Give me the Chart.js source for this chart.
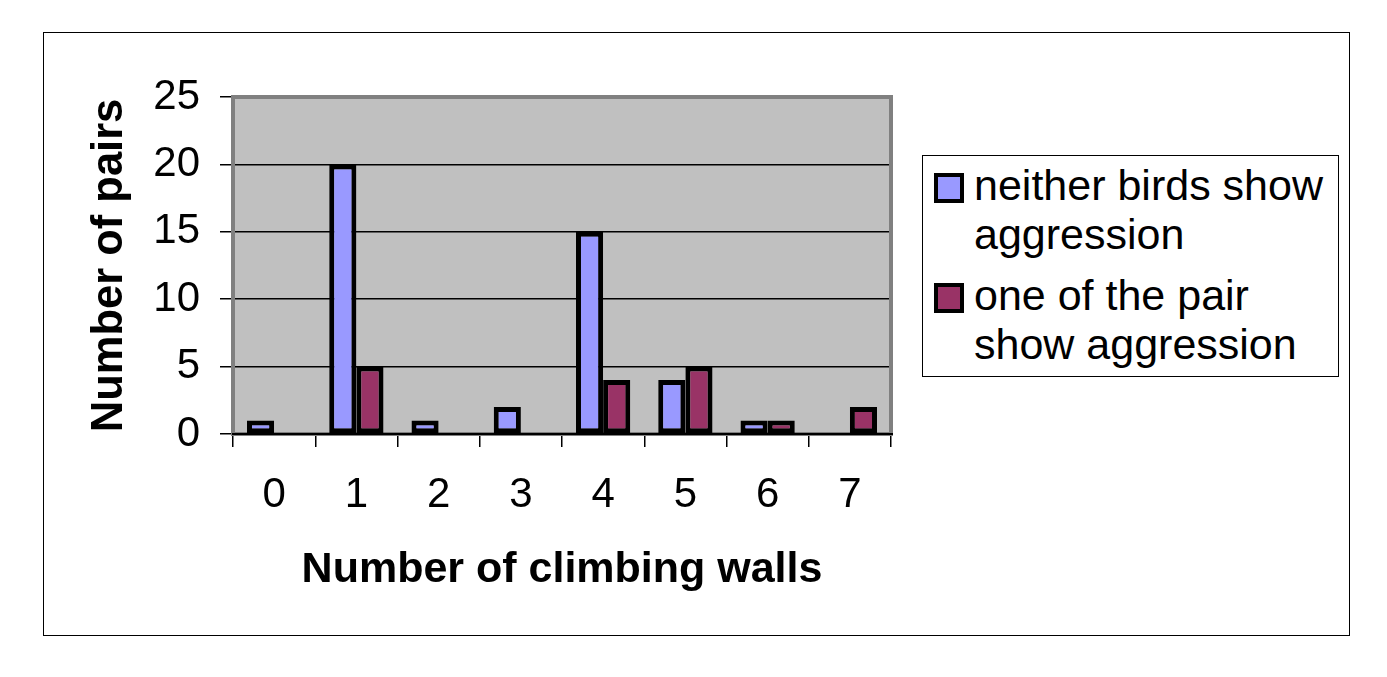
<!DOCTYPE html>
<html>
<head>
<meta charset="utf-8">
<script src="https://cdn.jsdelivr.net/npm/chart.js@4.4.1/dist/chart.umd.min.js"></script>
<style>
  body { margin: 0; background: #fff; font-family: "Liberation Sans", Arial, sans-serif; }
  #frame { position: absolute; left: 43px; top: 32px; width: 1305px; height: 602px; border: 1px solid #000; }
  #chart { position: absolute; left: 0; top: 0; }
  #legend { position: absolute; left: 922px; top: 155px; width: 415px; height: 220px; border: 1px solid #000; background: #fff; }
  .item { position: absolute; left: 11px; }
  .swatch { position: absolute; left: 0; width: 22px; height: 22px; border: 4px solid #000; }
  .label { position: absolute; left: 40px; white-space: pre; font-size: 43px; line-height: 49px; color: #000; }
</style>
</head>
<body>
<div id="frame"></div>
<canvas id="chart" width="1387" height="677"></canvas>
<div id="legend"></div>
<script>
// Data
const walls = ['0', '1', '2', '3', '4', '5', '6', '7'];
const neitherAggressive = [1, 20, 1, 2, 15, 4, 1, 0];
const oneAggressive = [0, 5, 0, 0, 4, 5, 1, 2];
const seriesNames = ['neither birds show\naggression', 'one of the pair\nshow aggression'];
const seriesColors = ['#9999FF', '#993366'];
const yTicks = [0, 5, 10, 15, 20, 25];

const FONT = '"Liberation Sans", Arial, sans-serif';

// plot area background + grey frame, drawn under the bars
const plotFrame = {
    id: 'plotFrame',
    beforeDraw(chart) {
        const { ctx, chartArea: a } = chart;
        ctx.save();
        ctx.fillStyle = '#C0C0C0';
        ctx.fillRect(a.left, a.top, a.right - a.left, a.bottom - a.top);
        ctx.restore();
    },
    beforeDatasetsDraw(chart) {
        const { ctx, chartArea: a } = chart;
        ctx.save();
        ctx.strokeStyle = '#808080';
        ctx.lineWidth = 4;
        ctx.strokeRect(a.left, a.top, a.right - a.left, a.bottom - a.top);
        ctx.strokeStyle = '#000';
        ctx.lineWidth = 2;
        ctx.beginPath();
        ctx.moveTo(a.left - 1, a.bottom);
        ctx.lineTo(a.right + 2, a.bottom);
        ctx.stroke();
        ctx.restore();
    }
};

// legend built from the datasets
const htmlLegend = {
    id: 'htmlLegend',
    afterInit(chart) {
        const box = document.getElementById('legend');
        const tops = [17, 127];
        chart.data.datasets.forEach((ds, i) => {
            const item = document.createElement('div');
            item.className = 'item';
            item.style.top = tops[i] + 'px';
            const sw = document.createElement('div');
            sw.className = 'swatch';
            sw.style.background = ds.backgroundColor;
            const lb = document.createElement('div');
            lb.className = 'label';
            lb.style.top = '-12px';
            lb.textContent = ds.label;
            item.appendChild(sw);
            item.appendChild(lb);
            box.appendChild(item);
        });
    }
};

new Chart(document.getElementById('chart'), {
    type: 'bar',
    data: {
        labels: walls,
        datasets: [
            { label: seriesNames[0], data: neitherAggressive, backgroundColor: seriesColors[0] },
            { label: seriesNames[1], data: oneAggressive, backgroundColor: seriesColors[1] }
        ]
    },
    options: {
        responsive: false,
        animation: false,
        events: [],
        layout: { padding: { left: 80, top: 97, right: 496, bottom: 80 } },
        datasets: {
            bar: {
                borderColor: '#000',
                borderWidth: 5,
                borderSkipped: false,
                categoryPercentage: 0.66,
                barPercentage: 1.0
            }
        },
        plugins: {
            legend: { display: false },
            tooltip: { enabled: false }
        },
        scales: {
            x: {
                grid: { offset: true, drawOnChartArea: false, color: '#000', lineWidth: 1.5, tickLength: 13 },
                border: { display: false },
                ticks: { color: '#000', padding: 23, font: { family: FONT, size: 42 } },
                title: {
                    display: true,
                    text: 'Number of climbing walls',
                    color: '#000',
                    padding: { top: 0, bottom: 1 },
                    font: { family: FONT, size: 43, weight: 'bold' }
                },
                afterFit(scale) { scale.height = 677 - 80 - 434; }
            },
            y: {
                min: 0,
                max: 25,
                afterBuildTicks(scale) { scale.ticks = yTicks.map(v => ({ value: v })); },
                grid: { color: '#000', lineWidth: 1.5, tickLength: 13 },
                border: { display: false },
                ticks: { color: '#000', padding: 20, font: { family: FONT, size: 42 } },
                title: {
                    display: true,
                    text: 'Number of pairs',
                    color: '#000',
                    padding: { top: 4, bottom: 0 },
                    font: { family: FONT, size: 43.5, weight: 'bold' }
                },
                afterFit(scale) { scale.width = 233 - 80; }
            }
        }
    },
    plugins: [plotFrame, htmlLegend]
});
</script>
</body>
</html>
